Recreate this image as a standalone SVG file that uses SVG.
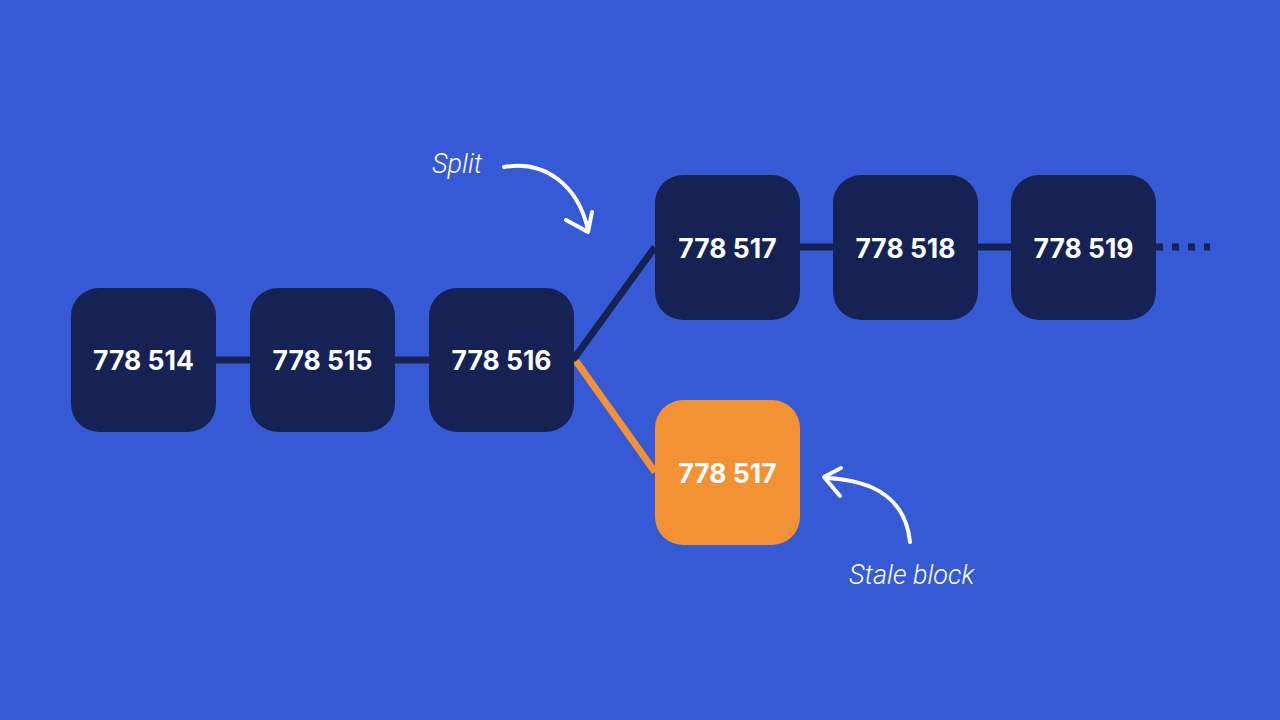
<svg xmlns="http://www.w3.org/2000/svg" width="1280" height="720" viewBox="0 0 1280 720">
<style>
.blk{fill:#162254}
.stale{fill:#f39234}
.lbl{font-family:Inter,"Liberation Sans",sans-serif;font-weight:700;font-size:26.5px;fill:#fff;text-anchor:middle}
.note{font-family:Roboto,"Liberation Sans",sans-serif;font-weight:300;font-style:italic;font-size:27px;fill:#fff}
.ln{stroke:#162254;stroke-width:7;fill:none}
.hand{stroke:#fff;stroke-width:4;fill:none;stroke-linecap:round;stroke-linejoin:round}
</style>
<rect width="1280" height="720" fill="#3659d6"/>
<g id="connectors">
<line class="ln" x1="216" y1="360" x2="250" y2="360"/>
<line class="ln" x1="395" y1="360" x2="429" y2="360"/>
<line class="ln" x1="573" y1="360" x2="655" y2="247"/>
<line x1="576" y1="361" x2="655" y2="472" stroke="#f39234" stroke-width="7"/>
<line class="ln" x1="800" y1="247" x2="833" y2="247"/>
<line class="ln" x1="978" y1="247" x2="1011" y2="247"/>
<line class="ln" x1="1156" y1="247" x2="1210" y2="247" stroke-dasharray="7 9"/>
</g>
<g id="n514"><rect class="blk" x="71" y="288" width="145" height="144" rx="28"/><text class="lbl" x="143.5" y="370">778 514</text></g>
<g id="n515"><rect class="blk" x="250" y="288" width="145" height="144" rx="28"/><text class="lbl" x="322.5" y="370">778 515</text></g>
<g id="n516"><rect class="blk" x="429" y="288" width="145" height="144" rx="28"/><text class="lbl" x="501.5" y="370">778 516</text></g>
<g id="n517"><rect class="blk" x="655" y="175" width="145" height="145" rx="28"/><text class="lbl" x="727.5" y="258">778 517</text></g>
<g id="n518"><rect class="blk" x="833" y="175" width="145" height="145" rx="28"/><text class="lbl" x="905.5" y="258">778 518</text></g>
<g id="n519"><rect class="blk" x="1011" y="175" width="145" height="145" rx="28"/><text class="lbl" x="1083.5" y="258">778 519</text></g>
<g id="n517stale"><rect class="stale" x="655" y="400" width="145" height="145" rx="28"/><text class="lbl" x="727.5" y="483">778 517</text></g>
<g id="split">
<text class="note" x="432" y="173">Split</text>
<path class="hand" d="M504,167 C545,160 578,185 588,230"/>
<path class="hand" d="M566,220 L588,232 L592,212"/>
</g>
<g id="stale-note">
<text class="note" x="849" y="584">Stale block</text>
<path class="hand" d="M910,542 C906,500 875,480 826,478"/>
<path class="hand" d="M841,468 L824,477 L840,496"/>
</g>
</svg>
